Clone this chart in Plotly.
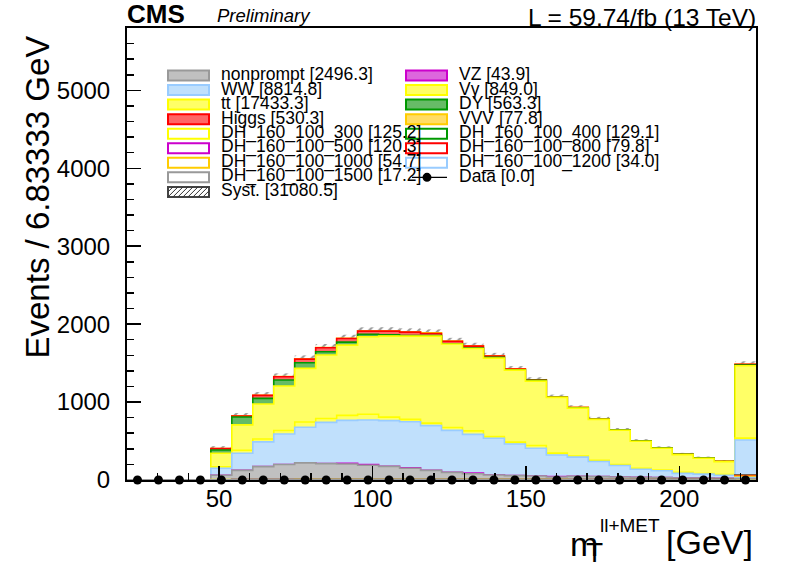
import numpy as np
import plotly.graph_objects as go

# ---------------- data ----------------
X_LO, X_HI, N_BINS = 20.0, 225.0, 30

nonprompt = [0, 0, 0, 0, 60, 124, 172, 198, 220, 210, 205, 190, 175, 150, 124, 98, 81, 64, 56, 51, 38, 47, 43, 38, 34, 30, 26, 26, 22, 21]
vz        = [0, 0, 0, 0, 0.3, 0.3, 0.4, 0.4, 0.4, 0.4, 8, 8, 0.4, 8, 0.3, 0.3, 8, 0.3, 0.3, 0.3, 6, 0.3, 0.3, 0.3, 0.2, 0.2, 0.2, 0.2, 0.2, 0.5]
ww        = [0, 0, 0, 0, 90, 218, 317, 392, 457, 529, 552, 571, 586, 590, 573, 539, 496, 471, 406, 357, 277, 246, 194, 148, 103, 88, 59, 49, 38, 492]
vgamma    = [0, 0, 0, 0, 19, 40, 36, 45, 66, 50, 64, 75, 46, 30, 32, 37, 45, 21, 24, 34, 24, 15, 14, 13, 12, 11, 15, 9, 11, 24]
ttbar     = [0, 0, 0, 0, 173, 325, 449, 570, 689, 814, 902, 994, 1039, 1068, 1117, 1070, 1058, 1008, 924, 827, 715, 614, 527, 439, 348, 278, 226, 195, 165, 929]
dy        = [0, 0, 0, 0, 43, 101, 73, 77, 72, 42, 38, 30, 17, 8, 7, 4, 5, 9, 5, 9, 2, 5, 2, 2, 2, 2, 2, 2, 2, 9]
higgs     = [0, 0, 0, 0, 17, 12, 38, 43, 47, 52, 47, 42, 47, 43, 27, 30, 25, 17, 8, 4, 2, 2, 2, 1, 1, 1, 1, 1, 1, 8]
vvv       = [0, 0, 0, 0, 2, 3, 3, 3, 3, 3, 3, 4, 5, 4, 10, 4, 3, 3, 3, 3, 2, 2, 2, 2, 2, 2, 1, 1, 1, 2]

syst_err  = [0, 0, 0, 0, 30, 35, 40, 40, 45, 45, 45, 45, 45, 45, 42, 42, 40, 38, 35, 33, 30, 28, 26, 24, 22, 20, 18, 17, 16, 38]

dh300  = [0, 0, 0, 0, 2, 3, 4, 4, 5, 5, 5, 6, 6, 6, 6, 6, 6, 5, 5, 5, 5, 4, 4, 4, 3, 3, 3, 3, 2, 15]
dh400  = [0, 0, 0, 0, 1, 2, 2, 3, 3, 3, 3, 3, 3, 3, 3, 3, 3, 3, 3, 3, 3, 3, 3, 3, 3, 3, 2, 2, 2, 61]
dh500  = [0, 0, 0, 0, 1, 2, 2, 2, 3, 3, 3, 3, 3, 3, 3, 3, 3, 3, 3, 3, 3, 3, 3, 3, 3, 2, 2, 2, 2, 54]
dh800  = [0, 0, 0, 0, 0.5, 0.5, 0.8, 0.8, 1, 1, 1, 1, 1, 1, 1, 1, 1, 1, 1, 1, 1, 1, 1, 1, 1, 1, 1, 1, 1, 56]
dh1000 = [0, 0, 0, 0, 0.2, 0.3, 0.3, 0.3, 0.4, 0.4, 0.4, 0.4, 0.4, 0.4, 0.4, 0.4, 0.4, 0.4, 0.4, 0.4, 0.4, 0.4, 0.4, 0.4, 0.4, 0.4, 0.4, 0.4, 0.4, 45]
dh1200 = [0, 0, 0, 0, 0.1, 0.1, 0.1, 0.1, 0.2, 0.2, 0.2, 0.2, 0.2, 0.2, 0.2, 0.2, 0.2, 0.2, 0.2, 0.2, 0.2, 0.2, 0.2, 0.2, 0.1, 0.1, 0.1, 0.1, 0.1, 30]
dh1500 = [0, 0, 0, 0, 0.05, 0.05, 0.05, 0.05, 0.1, 0.1, 0.1, 0.1, 0.1, 0.1, 0.1, 0.1, 0.1, 0.1, 0.1, 0.1, 0.1, 0.1, 0.1, 0.1, 0.1, 0.1, 0.1, 0.1, 0.1, 15]

data_obs = [0] * N_BINS

legend_labels = ["nonprompt", "VZ", "WW", "Vγ", "tt", "DY", "Higgs", "VVV",
                 "DH_160_100_300", "DH_160_100_400", "DH_160_100_500", "DH_160_100_800",
                 "DH_160_100_1000", "DH_160_100_1200", "DH_160_100_1500", "Data", "Syst."]
legend_totals = [2496.3, 43.9, 8814.8, 849.0, 17433.3, 563.3, 530.3, 77.8,
                 125.2, 129.1, 120.3, 79.8, 54.7, 34.0, 17.2, 0.0, 31080.5]

# ---------------- styles ----------------
FONT = "Liberation Sans"
stack = [  # bottom -> top : (values, fill, line)
    (nonprompt, "#c0c0c0", "#999999"),
    (vz,        "#dd66dd", "#cc00cc"),
    (ww,        "#c0e0fc", "#99ccff"),
    (vgamma,    "#ffff66", "#ffff00"),
    (ttbar,     "#ffff66", "#ffff00"),
    (dy,        "#66bb66", "#009900"),
    (higgs,     "#ff6666", "#ff0000"),
    (vvv,       "#ffdd66", "#ffcc00"),
]
signals = [
    (dh300, "#ffff00"), (dh400, "#009900"), (dh500, "#cc00cc"), (dh800, "#ff0000"),
    (dh1000, "#ffcc00"), (dh1200, "#99ccff"), (dh1500, "#999999"),
]

edges = np.linspace(X_LO, X_HI, N_BINS + 1)
centers = 0.5 * (edges[:-1] + edges[1:])
bin_w = edges[1] - edges[0]


def step(v):
    v = list(v)
    return v + [v[-1]]


cum = np.cumsum(np.array([s[0] for s in stack], dtype=float), axis=0)

fig = go.Figure()

# ROOT draws the stack from the top layer down, each filled from zero
for k in range(len(stack) - 1, -1, -1):
    _, fc, lc = stack[k]
    fig.add_trace(go.Scatter(
        x=edges, y=step(cum[k]), mode="lines", line=dict(shape="hv", color=lc, width=1.6),
        fill="tozeroy", fillcolor=fc, showlegend=False, hoverinfo="skip"))

# systematic band (hatched) above the stack total
fig.add_trace(go.Bar(
    x=centers, y=syst_err, base=cum[-1], width=bin_w,
    marker=dict(color="rgba(0,0,0,0)", line=dict(width=0),
                pattern=dict(shape="/", fgcolor="#333333", bgcolor="rgba(0,0,0,0)", size=7, solidity=0.3)),
    showlegend=False, hoverinfo="skip"))

for vals, col in signals:
    fig.add_trace(go.Scatter(x=edges, y=step(vals), mode="lines",
                             line=dict(shape="hv", color=col, width=2),
                             showlegend=False, hoverinfo="skip"))

fig.add_trace(go.Scatter(x=centers, y=data_obs, mode="markers",
                         marker=dict(color="black", size=9), cliponaxis=False,
                         showlegend=False, hoverinfo="skip"))

# ---------------- layout geometry ----------------
ML, MR, MT, MB = 127, 40, 28, 92
W, H = 796, 572
PW, PH = W - ML - MR, H - MT - MB


def X(px):
    return (px - ML) / PW


def Y(py):
    return (H - MB - py) / PH


shapes = []
annotations = []

# legend (manual, ROOT-like two-column layout)
leg_fill = {
    "nonprompt": ("#c0c0c0", "#999999"), "VZ": ("#dd66dd", "#cc00cc"), "WW": ("#c0e0fc", "#99ccff"),
    "Vγ": ("#ffff66", "#ffff00"), "tt": ("#ffff66", "#ffff00"), "DY": ("#66bb66", "#009900"),
    "Higgs": ("#ff6666", "#ff0000"), "VVV": ("#ffdd66", "#ffcc00"),
}
leg_line = {
    "DH_160_100_300": "#ffff00", "DH_160_100_400": "#009900", "DH_160_100_500": "#cc00cc",
    "DH_160_100_800": "#ff0000", "DH_160_100_1000": "#ffcc00", "DH_160_100_1200": "#99ccff",
    "DH_160_100_1500": "#999999",
}
col_box_x = [168, 406]
col_txt_x = [219, 457]
box_w, box_h = 41, 10
row0, row_dy = 75.5, 14.55

for i, (lab, tot) in enumerate(zip(legend_labels, legend_totals)):
    r, c = divmod(i, 2)
    cy = row0 + r * row_dy
    x0, x1 = col_box_x[c], col_box_x[c] + box_w
    y0, y1 = cy - box_h / 2, cy + box_h / 2
    if lab in leg_fill:
        fc, lc = leg_fill[lab]
        shapes.append(dict(type="rect", xref="paper", yref="paper", x0=X(x0), x1=X(x1), y0=Y(y1), y1=Y(y0),
                           fillcolor=fc, line=dict(color=lc, width=2)))
    elif lab in leg_line:
        shapes.append(dict(type="rect", xref="paper", yref="paper", x0=X(x0), x1=X(x1), y0=Y(y1), y1=Y(y0),
                           fillcolor="rgba(0,0,0,0)", line=dict(color=leg_line[lab], width=2)))
    elif lab == "Data":
        shapes.append(dict(type="line", xref="paper", yref="paper", x0=X(x0 + 6), x1=X(x1), y0=Y(cy), y1=Y(cy),
                           line=dict(color="black", width=1.2)))
        cx = x0 + 21
        shapes.append(dict(type="circle", xref="paper", yref="paper", x0=X(cx - 4.5), x1=X(cx + 4.5),
                           y0=Y(cy + 4.5), y1=Y(cy - 4.5), fillcolor="black", line=dict(color="black", width=0)))
    else:  # Syst. hatched box
        shapes.append(dict(type="rect", xref="paper", yref="paper", x0=X(x0), x1=X(x1), y0=Y(y1), y1=Y(y0),
                           fillcolor="white", line=dict(color="#444444", width=2)))
        hh = y1 - y0
        for xs in np.arange(x0 - hh, x1, 5.0):
            t0, t1 = max(0.0, x0 - xs), min(hh, x1 - xs)
            if t1 - t0 > 0.5:
                shapes.append(dict(type="line", xref="paper", yref="paper",
                                   x0=X(xs + t0), y0=Y(y1 - t0), x1=X(xs + t1), y1=Y(y1 - t1),
                                   line=dict(color="#333333", width=1)))
    annotations.append(dict(xref="paper", yref="paper", x=X(col_txt_x[c]), y=Y(cy - 1.5),
                            xanchor="left", yanchor="middle", showarrow=False,
                            text=f"{lab} [{tot:.1f}]", font=dict(family=FONT, size=17.5, color="black")))

# header texts
annotations += [
    dict(xref="paper", yref="paper", x=X(125), y=Y(14), xanchor="left", yanchor="middle", showarrow=False,
         text="<b>CMS</b>", font=dict(family=FONT, size=26, color="black")),
    dict(xref="paper", yref="paper", x=X(215), y=Y(16), xanchor="left", yanchor="middle", showarrow=False,
         text="<i>Preliminary</i>", font=dict(family=FONT, size=18.5, color="black")),
    dict(xref="paper", yref="paper", x=X(758), y=Y(17), xanchor="right", yanchor="middle", showarrow=False,
         text="L = 59.74/fb (13 TeV)", font=dict(family=FONT, size=24.5, color="black")),
]

# axis titles (ROOT style, aligned to the axis end)
annotations += [
    dict(xref="paper", yref="paper", x=X(37), y=Y(34), xanchor="center", yanchor="top", showarrow=False,
         textangle=-90, text="Events / 6.83333 GeV", font=dict(family=FONT, size=33, color="black")),
    dict(xref="paper", yref="paper", x=X(568), y=Y(544), xanchor="left", yanchor="middle", showarrow=False,
         text="m", font=dict(family=FONT, size=34, color="black")),
    dict(xref="paper", yref="paper", x=X(598), y=Y(525), xanchor="left", yanchor="middle", showarrow=False,
         text="ll+MET", font=dict(family=FONT, size=19, color="black")),
    dict(xref="paper", yref="paper", x=X(584), y=Y(552), xanchor="left", yanchor="middle", showarrow=False,
         text="T", font=dict(family=FONT, size=28, color="black")),
    dict(xref="paper", yref="paper", x=X(755), y=Y(542), xanchor="right", yanchor="middle", showarrow=False,
         text="[GeV]", font=dict(family=FONT, size=34, color="black")),
]

axis_common = dict(showline=True, mirror=True, linecolor="black", linewidth=2,
                   ticks="inside", ticklen=14, tickwidth=1.5, tickcolor="black",
                   showgrid=False, zeroline=False,
                   tickfont=dict(family=FONT, size=24, color="black"))

fig.update_layout(
    width=W, height=H, margin=dict(l=ML, r=MR, t=MT, b=MB, pad=0),
    paper_bgcolor="white", plot_bgcolor="white",
    font=dict(family=FONT, color="black"),
    barmode="overlay", showlegend=False,
    xaxis=dict(range=[X_LO, X_HI], tick0=0, dtick=50, ticklabelstandoff=-4,
               minor=dict(tick0=0, dtick=10, ticks="inside", ticklen=7, tickwidth=1.5,
                          tickcolor="black", showgrid=False), **axis_common),
    yaxis=dict(range=[0, 5800], tick0=0, dtick=1000, ticklabelstandoff=10,
               minor=dict(tick0=0, dtick=200, ticks="inside", ticklen=7, tickwidth=1.5,
                          tickcolor="black", showgrid=False), **axis_common),
    shapes=shapes, annotations=annotations,
)

fig.write_html("out.html", config={"displayModeBar": False, "staticPlot": True},
               post_script="document.body.style.margin='0px';document.body.style.overflow='hidden';")
